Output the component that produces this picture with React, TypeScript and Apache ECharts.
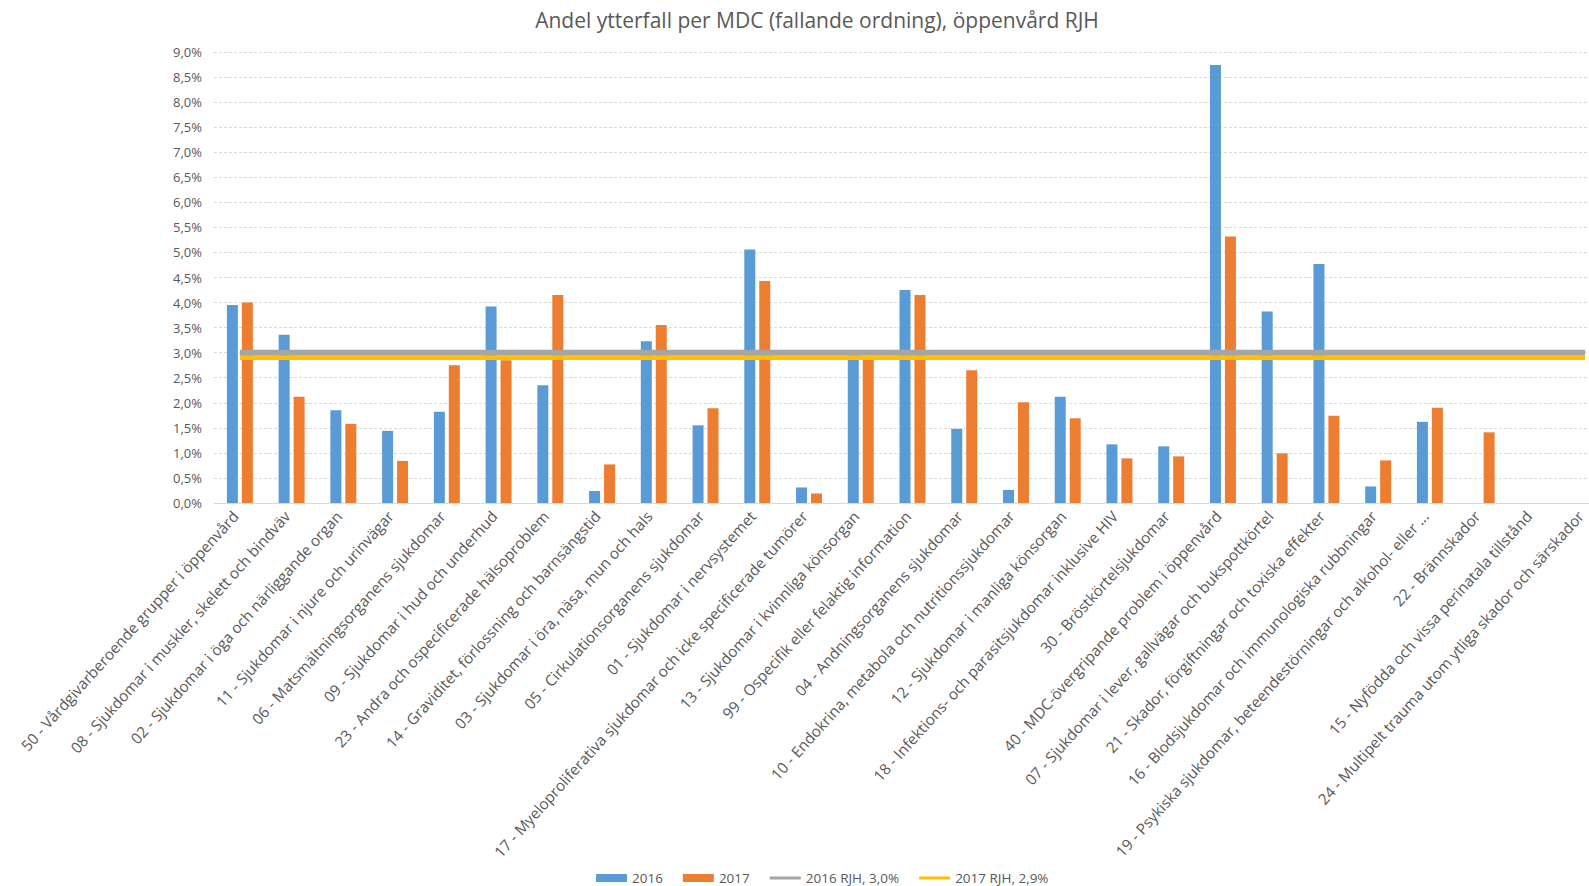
import React, { useEffect, useRef } from "react";
import * as echarts from "echarts";

// MDC-grupper i fallande ordning
const categories = [
  "50 - Vårdgivarberoende grupper i öppenvård",
  "08 - Sjukdomar i muskler, skelett och bindväv",
  "02 - Sjukdomar i öga och närliggande organ",
  "11 - Sjukdomar i njure och urinvägar",
  "06 - Matsmältningsorganens sjukdomar",
  "09 - Sjukdomar i hud och underhud",
  "23 - Andra och ospecificerade hälsoproblem",
  "14 - Graviditet, förlossning och barnsängstid",
  "03 - Sjukdomar i öra, näsa, mun och hals",
  "05 - Cirkulationsorganens sjukdomar",
  "01 - Sjukdomar i nervsystemet",
  "17 - Myeloproliferativa sjukdomar och icke specificerade tumörer",
  "13 - Sjukdomar i kvinnliga könsorgan",
  "99 - Ospecifik eller felaktig information",
  "04 - Andningsorganens sjukdomar",
  "10 - Endokrina, metabola och nutritionssjukdomar",
  "12 - Sjukdomar i manliga könsorgan",
  "18 - Infektions- och parasitsjukdomar inklusive HIV",
  "30 - Bröstkörtelsjukdomar",
  "40 - MDC-övergripande problem i öppenvård",
  "07 - Sjukdomar i lever, gallvägar och bukspottkörtel",
  "21 - Skador, förgiftningar och toxiska effekter",
  "16 - Blodsjukdomar och immunologiska rubbningar",
  "19 - Psykiska sjukdomar, beteendestörningar och alkohol- eller ...",
  "22 - Brännskador",
  "15 - Nyfödda och vissa perinatala tillstånd",
  "24 - Multipelt trauma utom ytliga skador och särskador",
];

// Andel ytterfall i procent
const values2016 = [
  3.95, 3.36, 1.85, 1.44, 1.82, 3.92, 2.35, 0.24, 3.23, 1.55, 5.06, 0.31, 3.0,
  4.25, 1.48, 0.26, 2.12, 1.17, 1.13, 8.74, 3.82, 4.77, 0.33, 1.62, null, null, null,
];
const values2017 = [
  4.0, 2.12, 1.58, 0.84, 2.75, 2.85, 4.15, 0.77, 3.55, 1.89, 4.43, 0.19, 2.88,
  4.15, 2.65, 2.01, 1.69, 0.89, 0.93, 5.32, 0.99, 1.74, 0.85, 1.9, 1.41, null, null,
];

// RJH totalt per år
const rjh2016 = [
  3.0, 3.0, 3.0, 3.0, 3.0, 3.0, 3.0, 3.0, 3.0, 3.0, 3.0, 3.0, 3.0, 3.0,
  3.0, 3.0, 3.0, 3.0, 3.0, 3.0, 3.0, 3.0, 3.0, 3.0, 3.0, 3.0, 3.0,
];
const rjh2017 = [
  2.9, 2.9, 2.9, 2.9, 2.9, 2.9, 2.9, 2.9, 2.9, 2.9, 2.9, 2.9, 2.9, 2.9,
  2.9, 2.9, 2.9, 2.9, 2.9, 2.9, 2.9, 2.9, 2.9, 2.9, 2.9, 2.9, 2.9,
];

const seriesNames = ["2016", "2017", "2016 RJH, 3,0%", "2017 RJH, 2,9%"];

const FONT = "'Open Sans', 'Liberation Sans', sans-serif";
const TEXT = "#595959";
const LINE_ICON = "path://M0,0 L31,0 L31,3 L0,3 Z";

export default function App() {
  const ref = useRef<HTMLDivElement>(null);

  useEffect(() => {
    document.body.style.margin = "0";
    document.body.style.overflow = "hidden";
    if (!ref.current) return;
    const chart = echarts.init(ref.current, undefined, { renderer: "svg" });
    chart.setOption({
      animation: false,
      backgroundColor: "#ffffff",
      title: {
        text: "Andel ytterfall per MDC (fallande ordning), öppenvård RJH",
        left: 812,
        top: 4,
        textAlign: "center",
        textStyle: {
          fontFamily: FONT,
          fontSize: 21,
          fontWeight: "normal",
          color: TEXT,
        },
      },
      legend: {
        left: 591,
        top: 866,
        itemGap: 20,
        itemWidth: 31,
        itemHeight: 8,
        textStyle: { fontFamily: FONT, fontSize: 13.5, color: TEXT },
        data: [
          { name: seriesNames[0], icon: "rect" },
          { name: seriesNames[1], icon: "rect" },
          { name: seriesNames[2], icon: LINE_ICON },
          { name: seriesNames[3], icon: LINE_ICON },
        ],
      },
      grid: {
        left: 214,
        top: 52,
        width: 1397,
        height: 451,
      },
      xAxis: {
        type: "category",
        data: categories,
        axisTick: { show: false },
        axisLine: { lineStyle: { color: "#d9d9d9", width: 1 } },
        axisLabel: {
          interval: 0,
          rotate: 48,
          margin: 5,
          padding: [0, 7, 0, 0],
          fontFamily: FONT,
          fontSize: 15.2,
          color: TEXT,
        },
      },
      yAxis: {
        type: "value",
        min: 0,
        max: 9,
        interval: 0.5,
        axisLine: { show: false },
        axisTick: { show: false },
        splitLine: { lineStyle: { color: "#d9d9d9", type: [3, 2], width: 1 } },
        axisLabel: {
          margin: 12,
          fontFamily: FONT,
          fontSize: 13,
          color: TEXT,
          formatter: (v: number) => v.toFixed(1).replace(".", ",") + "%",
        },
      },
      series: [
        {
          name: seriesNames[0],
          type: "bar",
          data: values2016,
          barWidth: 11,
          barGap: "36%",
          itemStyle: { color: "#5b9bd5" },
        },
        {
          name: seriesNames[1],
          type: "bar",
          data: values2017,
          barWidth: 11,
          barGap: "36%",
          itemStyle: { color: "#ed7d31" },
        },
        {
          name: seriesNames[2],
          type: "line",
          data: rjh2016,
          symbol: "none",
          lineStyle: { color: "#a5a5a5", width: 6 },
          itemStyle: { color: "#a5a5a5" },
          z: 3,
        },
        {
          name: seriesNames[3],
          type: "line",
          data: rjh2017,
          symbol: "none",
          lineStyle: { color: "#ffc000", width: 4.5 },
          itemStyle: { color: "#ffc000" },
          z: 4,
        },
      ],
    });
    return () => chart.dispose();
  }, []);

  // The plot runs past the right edge of the window, so the canvas is wider than the viewport.
  return <div ref={ref} style={{ width: 1640, height: 886 }} />;
}
